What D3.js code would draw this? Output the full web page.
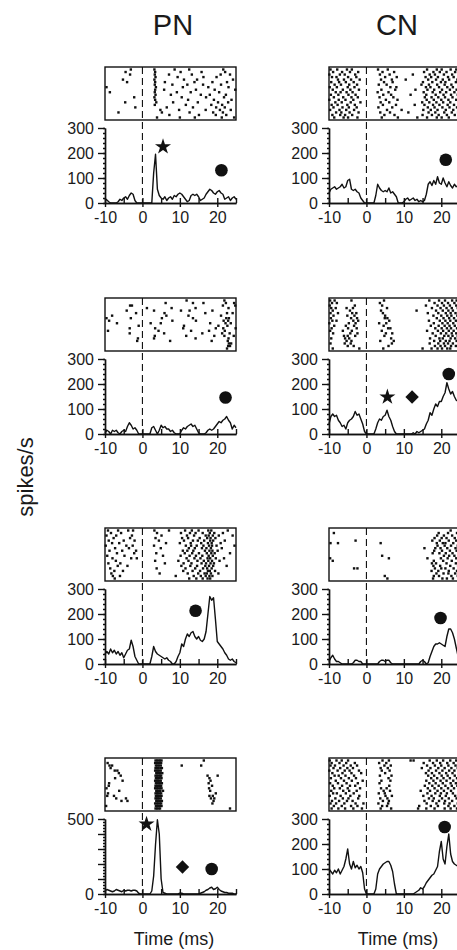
<!DOCTYPE html>
<html>
<head>
<meta charset="utf-8">
<script src="https://cdn.jsdelivr.net/npm/d3@7"></script>
<style>
  body { margin: 0; background: #fff; }
  svg text { font-family: "Liberation Sans", Arial, sans-serif; fill: #1a1a1a; }
</style>
</head>
<body>
<svg id="chart"></svg>
<script>
// column names and x ticks
let columns = ['PN', 'CN']
let tLabels = [-10, 0, 10, 20]
let tMinor = [-5, 5, 15, 25]
// PSTH bins, every 0.5 ms from -10 to 25
let binTimes = d3.range(-10, 25.001, 0.5)

// firing rates (spikes/s), one array per panel
let pnRate1 = [15,12,5,0,0,0,0,5,15,10, 20,25,15,30,40,35,10,0,0,0, 0,0,0,0,0,0,120,195,55,30, 20,15,25,10,20,25,15,30,25,35, 40,35,25,15,5,10,30,35,30,35, 25,10,15,20,35,45,55,50,40,35, 45,50,40,35,15,20,25,10,20,25, 15]
let pnRate2 = [5,15,10,0,15,10,15,5,0,10, 15,10,30,45,35,20,25,15,0,0, 0,0,0,0,0,25,30,15,0,15, 35,25,30,20,20,10,15,5,0,0, 0,15,25,20,30,35,40,30,35,20, 5,0,0,0,5,15,20,15,20,30, 40,50,45,55,60,70,55,45,20,35, 25]
let pnRate3 = [40,50,40,60,45,55,40,50,35,45, 25,40,55,60,95,70,30,15,0,0, 0,0,0,0,0,30,70,50,40,35, 30,25,20,25,15,10,0,0,10,30, 45,80,70,100,120,110,125,130,110,100, 110,95,90,100,130,200,270,255,265,180, 90,80,70,60,45,35,20,15,20,10, 5]
let pnRate4 = [20,30,25,20,15,20,30,25,20,15, 25,20,25,25,20,25,25,20,5,0, 0,0,0,0,0,20,120,330,495,400, 100,10,5,0,0,0,0,0,0,0, 5,5,0,0,0,0,0,0,0,0, 0,5,10,15,25,30,40,45,30,35, 45,30,20,15,10,10,5,5,5,0, 0]
let cnRate1 = [40,55,60,65,55,60,65,75,60,65, 90,95,55,50,55,45,40,20,10,0, 0,0,0,0,0,30,75,60,50,45, 50,45,60,40,45,35,25,0,0,0, 5,15,20,10,15,20,10,15,5,10, 5,10,35,75,85,70,90,75,105,80, 75,100,80,65,85,70,60,75,65,70, 60]
let cnRate2 = [40,70,80,70,75,55,45,30,35,20, 45,55,60,70,90,75,80,60,40,10, 0,0,0,0,0,20,45,60,55,70, 75,95,70,55,30,10,0,0,0,0, 0,0,0,0,0,5,0,10,5,10, 15,20,40,55,85,75,100,120,110,130, 130,150,165,205,180,160,170,150,135,130, 120]
let cnRate3 = [10,25,35,20,10,10,5,0,0,0, 0,0,0,5,15,15,10,10,0,0, 0,0,0,0,0,0,0,10,15,15, 10,15,15,5,0,0,0,0,0,0, 0,0,0,0,0,0,0,0,0,10, 15,10,0,5,30,50,70,80,80,85, 80,75,70,110,140,140,125,100,65,30, 15]
let cnRate4 = [100,90,80,95,85,100,80,95,110,140, 180,120,100,130,105,115,100,110,85,20, 0,0,0,0,0,20,80,100,110,120, 125,130,130,115,90,40,0,0,0,0, 0,0,0,0,0,0,5,10,15,25, 20,30,45,55,65,75,80,95,110,170, 210,140,120,190,240,160,130,120,115,110, 110]

// raster spike times (ms), one inner array per trial, top trial first
let pnRaster1 = [
  [-3.1,3.2,8.6,12.5,21.6],[-4.5,3.4,10.2,15.8,22.1],[-3.3,3.3,7.1,13.2,20.9,23.4],[3.5,9.4,16.3,19.8],
  [-5.2,3.2,11.1,14.6,24.2],[-4.1,3.4,6.0,13.9,18.7,22.6],[3.3,8.0,12.0,16.2,21.0],[-9.6,3.6,10.8,17.6,23.0],
  [3.4,5.8,14.3,19.3,24.8],[-8.7,3.3,9.2,12.9,20.5],[3.5,7.6,15.6,18.0,22.3],[-2.2,3.2,10.5,17.0,21.8],
  [3.4,12.2,19.1,23.8],[-4.6,3.7,8.2,14.8,20.2,22.9],[3.3,11.6,18.4,21.3],[-1.9,6.5,13.5,19.7,22.0],
  [4.8,9.8,16.9,20.7,23.6],[-6.4,5.2,12.6,18.9,21.5],[7.2,15.1,19.6,22.4],[3.9,10.0,14.0,21.2,24.5]
]
let pnRaster2 = [
  [11.8,21.9],[6.2,13.5,16.3,22.3,24.5],[-3.3,-2.8,21.5,24.8],[1.2,7.8,14.2,23.0],
  [-4.2,3.1,10.3,12.6,18.7],[-1.7,5.9,16.8,22.6,24.1],[-8.1,6.4,12.3,21.0],[-9.6,-3.1,5.2,13.5,22.4,23.1],
  [-8.9,8.0,14.3,21.7,22.9],[-6.8,2.2,4.9,18.1,22.2,23.6],[-1.0,11.1,20.3,22.7],[-3.4,3.4,10.9,19.6,21.6,24.9],
  [-9.2,4.3,13.0,17.8,22.0],[-3.4,5.8,16.0,21.3,23.3],[3.3,11.7,19.2,21.9,24.4],[-1.2,3.1,14.2,23.0],
  [-1.4,7.4,18.5,22.8],[23.1,23.7],[22.9,23.4],[22.6]
]
let pnRaster3 = [
  [-9.2,-6.5,-3.8,-2.5,3.2,7.1,11.4,13.2,15.0,17.6,18.4,22.8],[-8.4,-5.7,3.9,10.3,12.7,14.2,16.1,18.0,19.2,21.5],
  [-9.6,-7.0,-2.8,5.1,11.9,13.8,16.9,17.7,18.8,20.4,24.1],[-7.7,-3.3,3.5,10.6,12.2,15.3,17.3,18.2,19.5],
  [-9.0,-5.0,-2.1,4.4,11.1,13.5,14.8,16.5,18.1,18.9,22.0],[-8.1,-6.2,6.3,10.0,12.9,15.7,17.5,18.5,20.9],
  [-9.8,-4.3,-2.6,3.1,11.6,13.0,14.5,16.3,17.8,18.6,19.8,24.6],[-7.3,-3.6,4.9,12.4,14.0,15.9,17.1,18.3,21.2],
  [-8.8,-5.4,-1.7,10.8,12.0,13.6,16.7,17.9,18.7,20.1],[-6.8,-2.2,3.7,11.3,13.3,15.1,17.2,18.4,19.3,23.4],
  [-9.4,-4.8,5.5,10.2,12.6,14.3,16.0,17.7,18.8],[-8.0,-3.0,-1.5,11.8,13.9,15.5,17.4,18.1,19.6,21.8],
  [-7.1,3.4,9.6,12.3,14.7,16.4,17.6,18.6,20.6],[-9.1,-5.9,6.0,11.0,13.1,15.8,17.0,18.2,19.1],
  [-6.6,-4.0,10.4,12.8,14.6,16.8,17.8,18.9,22.5],[-8.6,3.8,11.5,14.1,16.2,17.3,18.5],
  [-7.5,-5.2,10.9,13.4,15.4,17.5,18.0,19.4],[-8.3,4.6,12.1,14.9,16.6,17.2,18.3,20.3],
  [-7.9,-6.0,8.9,13.7,15.6,16.9,17.9,18.7],[-7.4,12.5,14.4,16.1,17.4,18.1]
]
let pnRaster4 = [
  [3.5,3.9,4.3,4.7,5.1,16.4],[-9.3,3.4,3.8,4.2,4.6,5.0],[-8.8,-8.1,3.6,4.0,4.4,4.9,10.5,15.7],[-8.5,3.5,3.9,4.3,4.8,5.2],
  [-7.4,-6.7,3.4,3.8,4.1,4.5,4.9],[-6.3,3.7,4.0,4.4,4.8,5.3],[-5.8,3.5,3.9,4.3,4.7,5.0,17.4,20.1],[-7.3,3.6,3.9,4.2,4.6,5.1,17.9],
  [-5.3,3.4,3.8,4.1,4.5,4.9,18.2],[-8.9,3.6,4.0,4.4,4.8,5.2,17.7],[-9.0,3.5,3.9,4.3,4.6,5.0,18.6],[-9.6,3.4,3.8,4.2,4.7,5.1,17.8],
  [-6.2,3.7,4.0,4.4,4.8,5.5,18.1],[-9.2,3.5,3.9,4.2,4.6,5.0,19.6],[-9.4,-7.6,3.6,4.0,4.3,4.7,5.1,17.9,18.8],[-7.0,-4.4,3.5,3.8,4.1,4.5,4.9,18.3,19.2],
  [-5.6,-4.0,3.7,4.0,4.4,4.8,5.2,19.0],[3.4,3.8,4.2,4.6,5.0,18.7],[-9.7,3.6,3.9,4.3,4.7,5.1],[3.5,3.9,4.3,4.7,23.4]
]
let cnRaster1 = [
  [-9.6,-7.8,-5.2,-3.9,3.1,5.7,16.2,18.8,20.1,22.5,24.0],[-8.9,-6.5,-4.4,-2.2,4.3,7.4,15.4,17.9,19.6,21.4,23.7],
  [-9.9,-7.1,-5.8,-3.0,3.6,6.2,12.4,16.9,18.3,20.7,22.9,24.6],[-9.2,-8.0,-4.9,-2.7,5.0,8.1,15.8,17.3,19.1,21.8,23.3],
  [-7.6,-6.0,-4.1,-1.8,3.9,6.8,10.5,16.5,18.6,20.4,22.1,24.3],[-9.4,-7.3,-5.5,-3.4,4.7,7.0,15.1,17.6,19.9,21.1,23.9],
  [-8.5,-6.8,-4.6,-2.5,3.3,5.4,14.7,16.7,18.9,20.9,22.7,24.8],[-9.8,-7.9,-5.0,-3.2,6.4,8.0,15.9,17.1,19.4,21.6,23.1],
  [-9.0,-6.3,-4.3,-2.0,4.0,7.7,13.1,16.3,18.1,20.2,22.3,24.1],[-8.2,-6.9,-5.3,-3.7,3.0,5.9,15.3,17.7,19.7,21.3,23.5],
  [-9.5,-7.5,-4.8,-2.9,4.5,6.6,11.8,16.0,18.5,20.6,22.6,24.4],[-8.7,-6.2,-4.0,-2.3,3.5,7.2,15.6,17.4,19.2,21.0,23.0],
  [-9.9,-7.4,-5.6,-3.5,5.2,8.3,16.1,18.0,20.0,21.9,24.0],[-8.3,-6.6,-4.2,-1.6,3.8,6.1,14.9,16.8,18.7,20.5,22.4,24.7],
  [-9.3,-7.7,-5.1,-3.1,4.4,7.9,12.9,15.5,17.8,19.5,21.7,23.4],[-8.8,-6.4,-4.7,-2.6,3.2,6.9,16.4,18.2,20.3,22.2,24.2],
  [-9.7,-7.2,-5.4,-3.3,5.5,9.4,15.2,17.2,19.0,21.2,23.2],[-8.1,-6.7,-4.5,-2.1,3.7,6.3,11.2,16.6,18.4,20.8,22.8,24.5],
  [-9.1,-7.0,-5.7,-3.8,4.8,7.5,15.0,17.5,19.3,21.5,23.6],[-8.6,-6.1,-4.9,-2.4,4.1,8.4,13.6,16.2,18.8,20.1,22.0,24.9]
]
let cnRaster2 = [
  [-9.7,-8.5,-4.0,4.7,16.8,19.4,21.0,22.9,24.1],[-9.2,-7.9,3.6,18.2,20.2,21.8,23.5,24.6],
  [-9.8,-3.1,4.2,15.9,19.0,20.7,22.3,24.0],[-9.4,-8.2,-5.3,-3.6,5.5,17.5,19.8,21.4,22.8,24.4],
  [-9.0,-4.4,3.9,13.4,18.6,20.4,21.9,23.1,24.8],[-9.6,-7.6,-3.8,-2.7,4.4,16.4,19.2,21.2,22.5,23.8],
  [-8.8,-5.1,-3.2,5.0,17.9,20.0,21.6,22.7,24.3],[-9.5,-4.1,-2.5,4.9,5.6,18.8,20.6,22.1,23.4,24.9],
  [-9.1,-8.0,-3.5,-2.2,6.1,16.7,19.6,21.1,22.4,23.9],[-9.9,-4.7,-2.9,3.4,5.3,18.0,20.3,21.7,23.2,24.5],
  [-8.6,-5.5,-3.3,4.6,17.2,19.3,20.9,22.2,23.6],[-9.3,-4.9,-2.6,5.8,6.4,18.4,20.1,21.5,22.6,24.2],
  [-9.7,-6.3,-3.9,4.1,16.2,19.1,20.5,22.0,23.3,24.7],[-8.9,-4.3,-2.4,5.2,6.9,17.7,19.9,21.3,22.8,24.0],
  [-6.0,-5.0,-3.0,4.8,18.5,20.8,21.9,23.0,24.4],[-9.4,-5.7,-4.6,6.6,17.0,19.5,20.4,22.5,23.7],
  [-5.3,-4.0,3.7,7.3,18.1,19.7,21.2,22.2,24.1,24.8],[-9.6,-5.8,-4.2,6.8,16.9,19.2,20.7,21.8,23.1],
  [-5.0,-3.4,5.9,18.3,19.8,21.0,22.6,23.9],[-9.0,-1.9,4.5,15.0,17.4,19.0,20.2,21.6,22.4,24.6]
]
let cnRaster3 = [
  [22.5],[-8.7,19.3,21.8,24.2],[18.9,20.7,22.9,24.6],[18.2,20.1,21.4,23.6],
  [-2.9,17.6,19.6,22.0,24.0],[-9.6,-7.6,3.8,18.8,20.4,21.1,23.2],[19.0,20.9,22.6,24.4],[15.5,18.4,19.8,21.6,23.8],
  [18.1,20.2,22.3,24.1],[17.7,19.5,21.2,23.0,24.7],[4.2,20.7,22.1,23.5],[-9.7,6.0,16.3,19.9,21.7,24.0],
  [-9.0,18.0,20.5,22.8],[17.5,18.6,21.4,23.9],[17.9,19.7,22.4,24.5],[-3.3,-2.4,18.3,20.0,21.1,23.3],
  [17.4,19.2,22.0,24.2],[18.7,20.6,21.9,23.7],[4.9,18.0,19.4,22.7,24.4],[5.6,17.8,20.3,21.5,23.1,24.8]
]
let cnRaster4 = [
  [-9.8,-8.0,-6.6,-4.9,4.3,6.0,11.8,12.6,16.9,18.8,20.5,22.4,24.0],[-9.3,-7.2,-5.4,-3.1,3.4,5.3,15.3,17.8,19.7,21.6,23.3,24.7],
  [-9.6,-8.4,-6.1,-4.2,-2.5,4.8,6.5,16.2,18.3,20.0,21.9,23.8],[-8.8,-7.0,-5.1,-3.6,3.8,5.7,14.8,17.1,19.2,20.9,22.7,24.4],
  [-9.9,-7.7,-5.8,-4.5,-2.0,4.1,6.2,16.6,18.6,20.3,22.1,23.5],[-9.1,-6.4,-4.0,-1.4,5.0,15.9,17.5,19.5,21.3,23.0,24.8],
  [-8.5,-7.4,-5.6,-3.3,3.6,6.7,16.5,18.1,20.1,21.7,23.6],[-9.5,-6.8,-4.7,-2.8,5.9,17.3,18.9,20.6,22.3,24.2],
  [-8.2,-6.0,-3.9,-1.0,4.0,6.4,16.0,17.9,19.8,21.4,23.2,24.5],[-9.7,-7.6,-5.3,-2.3,3.5,16.8,18.5,20.4,22.5,23.9],
  [-9.0,-6.5,-4.4,-3.0,6.1,15.6,17.6,19.3,21.1,22.8,24.3],[-8.6,-7.1,-5.0,-1.7,3.9,5.4,16.4,18.2,20.0,21.8,23.4],
  [-9.4,-6.2,-4.6,-2.6,4.6,6.3,14.5,17.0,19.0,20.7,22.6,24.6],[-8.9,-7.9,-5.5,-3.4,3.3,4.9,16.3,18.4,19.9,21.5,23.1],
  [-9.8,-6.9,-4.3,-1.9,5.1,6.8,15.2,17.4,19.6,21.2,23.7,24.9],[-8.3,-6.3,-4.8,-2.2,3.7,5.6,16.7,18.0,20.2,22.0,24.1],
  [-9.2,-7.3,-5.2,-3.7,4.4,6.0,15.5,17.7,19.4,21.0,22.9],[-9.6,-8.1,-5.9,-2.9,-0.8,3.2,5.8,16.1,18.7,20.8,22.2,24.4],
  [-8.7,-6.6,-4.1,-2.4,4.2,5.5,14.1,17.2,19.1,21.9,23.5],[-9.3,-7.5,-5.7,-3.5,-1.2,3.8,6.6,13.8,16.0,18.2,20.9,22.5,24.2]
]

// y axis top value of each row
let pnYMax = [300, 300, 300, 500]
let cnYMax = [300, 300, 300, 300]

// event markers: column, row, symbol, time, rate
let markerCol = ['PN', 'PN', 'CN', 'PN', 'CN', 'CN', 'CN', 'PN', 'CN', 'PN', 'PN', 'PN', 'CN']
let markerRow = [0, 0, 0, 1, 1, 1, 1, 2, 2, 3, 3, 3, 3]
let markerType = ['star', 'circle', 'circle', 'circle', 'star', 'diamond', 'circle', 'circle', 'circle', 'star', 'diamond', 'circle', 'circle']
let markerTime = [5.5, 21.1, 21.2, 22.2, 5.6, 12.2, 22.0, 14.2, 19.8, 1.1, 10.7, 18.5, 20.9]
let markerRate = [225, 131, 173, 146, 148, 148, 240, 213, 184, 466, 180, 167, 268]

// canvas
let width = 457
let height = 950
let svg = d3.select('#chart').attr('width', width).attr('height', height)

// layout of the panels
let colLeft = { PN: 105, CN: 329 }
let plotW = 131
let rowZero = [203, 434, 664, 894]
let plotH = 75
let boxTop = 136
let boxBottom = 83

let symbolTypes = { star: d3.symbolStar, circle: d3.symbolCircle, diamond: d3.symbolDiamond2 }
let symbolSizes = { star: 80, circle: 125, diamond: 115 }

let styleAxis = (g) => {
    g.attr('font-size', 16)
     .attr('font-family', '"Liberation Sans", Arial, sans-serif')
     .attr('color', '#111')
    g.selectAll('path, line').attr('stroke-width', 1.4)
}

let drawPanel = (col, row, rates, raster, yMax) => {
    let x = d3.scaleLinear().domain([-10, 25]).range([colLeft[col], colLeft[col] + plotW])
    let y = d3.scaleLinear().domain([0, yMax]).range([rowZero[row], rowZero[row] - plotH])
    let top = rowZero[row] - boxTop
    let bottom = rowZero[row] - boxBottom
    let trial = d3.scaleLinear().domain([0, raster.length - 1]).range([top + 2.5, bottom - 2.5])

    // raster dots
    let dots = []
    raster.forEach((times, i) => times.forEach(t => dots.push([t, i])))
    svg.append('g').selectAll('rect')
        .data(dots)
        .enter()
        .append('rect')
        .attr('x', d => x(d[0]) - 1.2)
        .attr('y', d => trial(d[1]) - 1.2)
        .attr('width', 2.4)
        .attr('height', 2.4)
        .attr('fill', '#111')

    // raster frame
    svg.append('rect')
        .attr('x', x(-10))
        .attr('y', top)
        .attr('width', x(25) - x(-10))
        .attr('height', bottom - top)
        .attr('fill', 'none')
        .attr('stroke', '#111')
        .attr('stroke-width', 1.4)

    // stimulus onset
    svg.append('line')
        .attr('x1', x(0)).attr('x2', x(0))
        .attr('y1', top).attr('y2', rowZero[row])
        .attr('stroke', '#111')
        .attr('stroke-width', 1.1)
        .attr('stroke-dasharray', '7,4')

    // PSTH line
    let line = d3.line()
        .x((d, i) => x(binTimes[i]))
        .y(d => y(d))
    svg.append('path')
        .datum(rates)
        .attr('d', line)
        .attr('fill', 'none')
        .attr('stroke', '#111')
        .attr('stroke-width', 1.4)
        .attr('stroke-linejoin', 'round')

    // axes
    let yTicks = d3.range(0, yMax + 1, 100)
    let yAxis = d3.axisLeft(y)
        .tickValues(yTicks)
        .tickSize(7)
        .tickSizeOuter(0)
        .tickPadding(4)
        .tickFormat(d => (yMax === 500 && d !== 0 && d !== 500) ? '' : String(d))
    svg.append('g')
        .attr('transform', 'translate(' + x(-10) + ',0)')
        .call(yAxis)
        .call(styleAxis)
    svg.append('g')
        .attr('transform', 'translate(' + x(-10) + ',0)')
        .call(d3.axisLeft(y).tickValues(d3.range(0, yMax + 1, 20)).tickSize(2).tickSizeOuter(0).tickFormat(''))
        .call(styleAxis)

    let xAxis = d3.axisBottom(x)
        .tickValues(tLabels)
        .tickSize(4)
        .tickSizeOuter(0)
        .tickPadding(5)
        .tickFormat(d => String(d))
    svg.append('g')
        .attr('transform', 'translate(0,' + rowZero[row] + ')')
        .call(xAxis)
        .call(styleAxis)
    svg.append('g')
        .attr('transform', 'translate(0,' + rowZero[row] + ')')
        .call(d3.axisBottom(x).tickValues(tLabels.concat(tMinor)).tickSize(-5).tickSizeOuter(0).tickFormat(''))
        .call(styleAxis)

    // event markers for this panel
    markerType.forEach((type, i) => {
        if (markerCol[i] !== col || markerRow[i] !== row) return
        svg.append('path')
            .attr('d', d3.symbol().type(symbolTypes[type]).size(symbolSizes[type])())
            .attr('transform', 'translate(' + x(markerTime[i]) + ',' + y(markerRate[i]) + ')')
            .attr('fill', '#111')
    })
}

let pnRates = [pnRate1, pnRate2, pnRate3, pnRate4]
let cnRates = [cnRate1, cnRate2, cnRate3, cnRate4]
let pnRasters = [pnRaster1, pnRaster2, pnRaster3, pnRaster4]
let cnRasters = [cnRaster1, cnRaster2, cnRaster3, cnRaster4]

for (let r = 0; r < 4; r++) {
    drawPanel('PN', r, pnRates[r], pnRasters[r], pnYMax[r])
    drawPanel('CN', r, cnRates[r], cnRasters[r], cnYMax[r])
}

// titles and axis names
columns.forEach(c => {
    svg.append('text')
        .attr('x', colLeft[c] + 68)
        .attr('y', 35)
        .attr('text-anchor', 'middle')
        .attr('font-size', 29)
        .text(c)
    svg.append('text')
        .attr('x', colLeft[c] + 69)
        .attr('y', 945)
        .attr('text-anchor', 'middle')
        .attr('font-size', 18)
        .text('Time (ms)')
})

svg.append('text')
    .attr('transform', 'translate(33,477) rotate(-90)')
    .attr('text-anchor', 'middle')
    .attr('font-size', 22)
    .text('spikes/s')
</script>
</body>
</html>
